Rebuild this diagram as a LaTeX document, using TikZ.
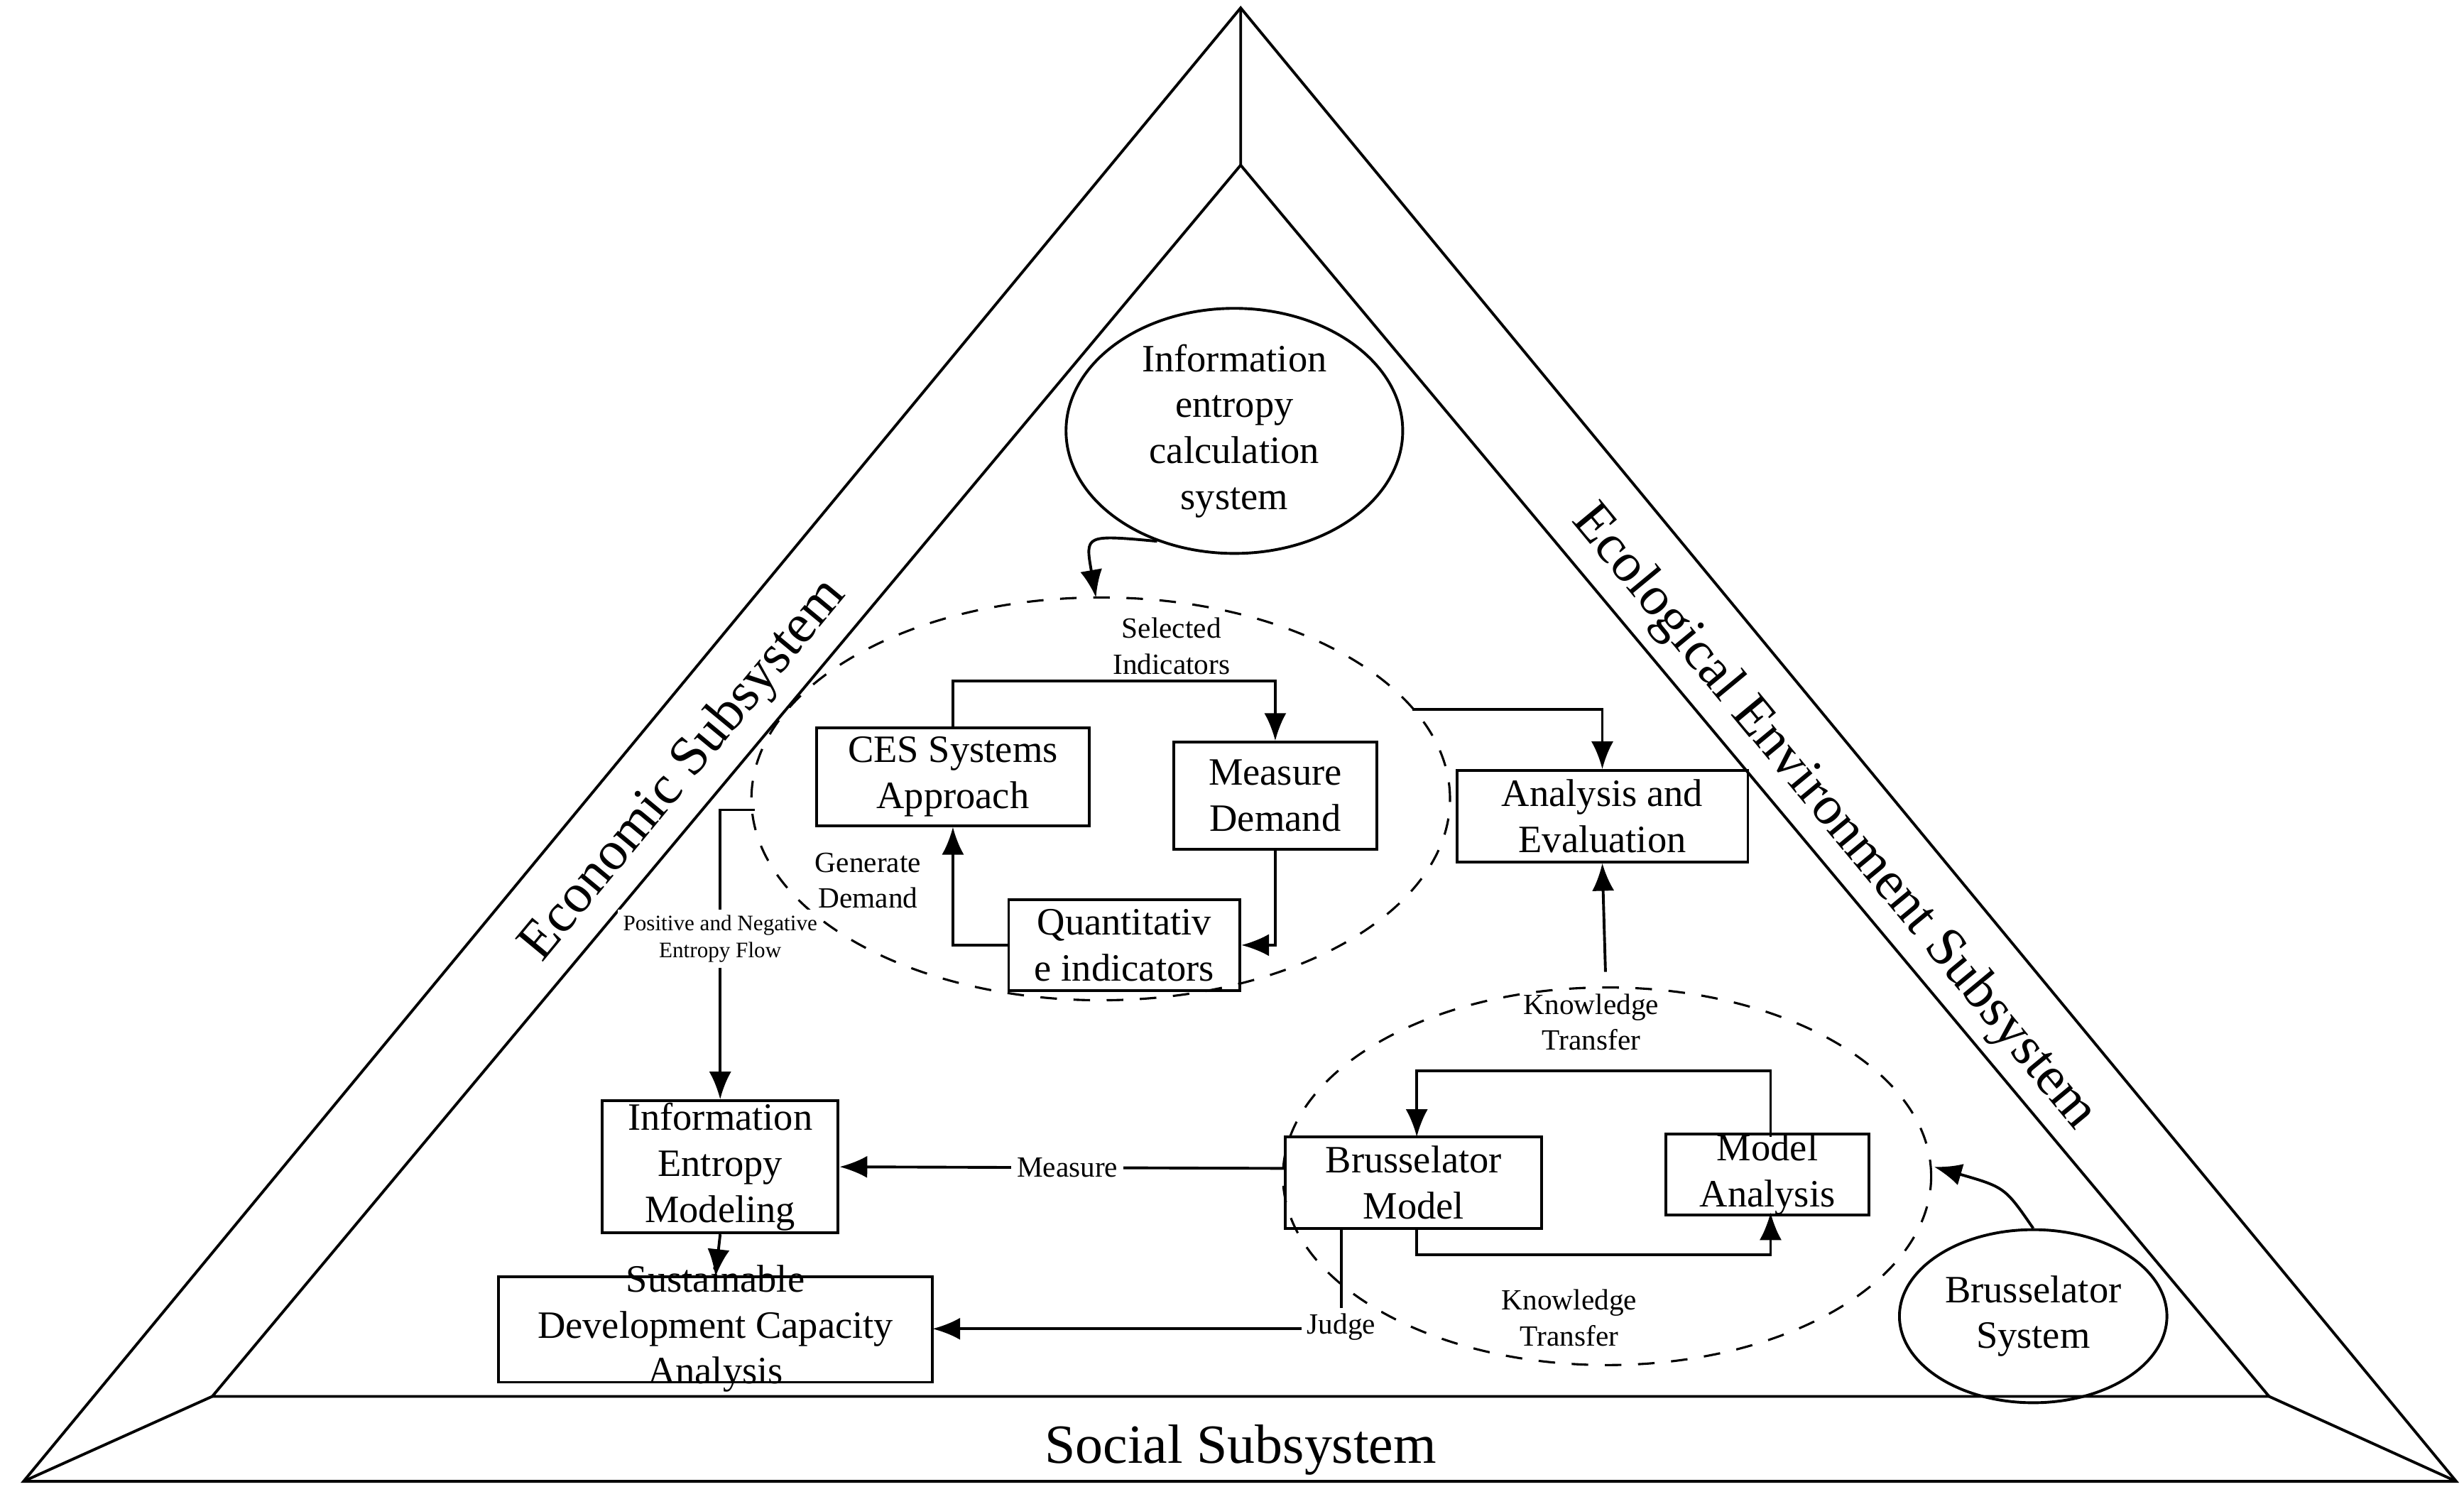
\documentclass[tikz,border=0pt]{standalone}
\usepackage{fontspec}
\setmainfont{Liberation Serif}
\usetikzlibrary{arrows.meta,shapes.geometric}
\begin{document}
\begin{tikzpicture}[x=0.01cm,y=-0.01cm,
  box/.style={draw,align=center,inner sep=0pt,font=\fontsize{7}{8.3}\selectfont},
  lbl/.style={align=center,font=\fontsize{5.3}{6.5}\selectfont},
  big/.style={font=\fontsize{10}{12}\selectfont},
  arr/.style={-{Latex[length=5pt,width=4pt]}},
  line width=0.5pt]
\useasboundingbox (0,0) rectangle (1567,956);
% triangles
\coordinate (A) at (789,5); \coordinate (B) at (15,942); \coordinate (C) at (1562,942);
\coordinate (a) at (789,105); \coordinate (b) at (135,888); \coordinate (c) at (1443,888);
\draw (A)--(B)--(C)--cycle;
\draw (a)--(b)--(c)--cycle;
\draw (A)--(a) (B)--(b) (C)--(c);
\node[big,rotate=50.4] (eco) at (435,490) {Economic Subsystem};
\node[big,rotate=-50.4] (ecol) at (1166,520) {Ecological Environment Subsystem};
\node[big] (soc) at (789,922) {Social Subsystem};
% nodes
\node[draw,ellipse,minimum width=2.14cm,minimum height=1.26cm,align=center,inner sep=0pt,font=\fontsize{7}{8.3}\selectfont] (ie) at (785,274) {Information\\entropy\\calculation\\system};
\node[draw,dashed,ellipse,minimum width=4.44cm,minimum height=2.56cm,line width=0.4pt] (e1) at (700,508) {};
\node[box,minimum width=1.73cm,minimum height=0.62cm] (ces) at (606,494) {CES Systems\\Approach};
\node[box,minimum width=1.29cm,minimum height=0.68cm] (md) at (811,506) {Measure\\Demand};
\node[box,minimum width=1.47cm,minimum height=0.58cm] (qi) at (715,601) {Quantitativ\\e indicators};
\node[box,minimum width=1.85cm,minimum height=0.58cm] (ae) at (1019,519) {Analysis and\\Evaluation};
\node[draw,dashed,ellipse,minimum width=4.12cm,minimum height=2.40cm,line width=0.4pt] (e2) at (1022,748) {};
\node[box,minimum width=1.63cm,minimum height=0.58cm] (bm) at (899,752) {Brusselator\\Model};
\node[box,minimum width=1.29cm,minimum height=0.48cm] (ma) at (1124,747) {Model\\Analysis};
\node[draw,ellipse,minimum width=1.70cm,minimum height=1.10cm,align=center,inner sep=0pt,font=\fontsize{7}{8.3}\selectfont] (bs) at (1293,837) {Brusselator\\System};
\node[box,minimum width=1.50cm,minimum height=0.84cm] (iem) at (458,742) {Information\\Entropy\\Modeling};
\node[box,draw=none] (sd) at (455,845) {Sustainable\\Development Capacity\\Analysis};
\draw (317,812) rectangle (593,879);
% coordinates
\coordinate (p1) at (697,380);
\coordinate (p2) at (898,451);
\coordinate (p3) at (480,515);
\coordinate (p4) at (1230,742);
\coordinate (sdn) at (455,812);
\coordinate (sde) at (593,845);
% connectors
\draw[arr] (ie.235) .. controls (690,340) .. (p1);
\draw[arr] (ces.north) |- (811,433) -- (md.north);
\node[lbl] (si) at (745,411) {Selected\\Indicators};
\draw[arr] (md.south) |- (qi.east);
\draw[arr] (qi.west) -| (ces.south);
\node[lbl] (gd) at (552,560) {Generate\\Demand};
\draw[arr] (p2) -| (ae.north);
\draw[arr] (1021,618) -- (ae.south);
\node[lbl] (kt1) at (1012,650) {Knowledge\\Transfer};
\draw[arr] (1126,723) |- (901,681) -- (901,723);
\draw[arr] (901,781) |- (1126,798) -- (1126,771);
\node[lbl] (kt2) at (998,838) {Knowledge\\Transfer};
\draw[arr] (bs.north) .. controls (1275,755) .. (p4);
\draw[arr] (818,743) -- (iem.east) node[lbl,pos=0.49,fill=white,inner sep=1pt] {Measure};
\draw[arr] (853,781) |- (sde) node[lbl,pos=0.49,fill=white,inner sep=1pt] {Judge};
\draw[arr] (p3) -| (iem.north);
\node[lbl,fill=white,inner sep=1pt,font=\fontsize{4}{4.8}\selectfont] (pn) at (458,597) {Positive and Negative\\Entropy Flow};
\draw[arr] (iem.south) -- (sdn);
\end{tikzpicture}
\end{document}
